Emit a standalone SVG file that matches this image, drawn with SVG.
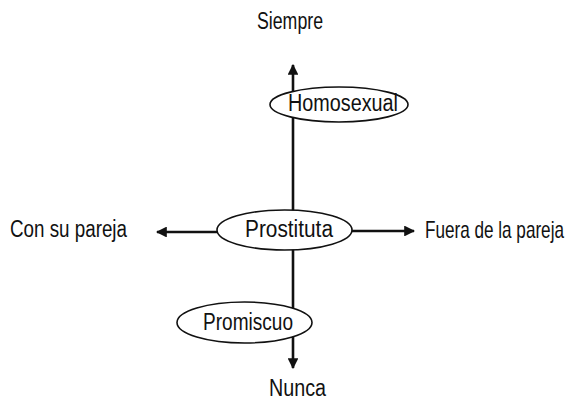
<svg xmlns="http://www.w3.org/2000/svg" width="573" height="400" viewBox="0 0 573 400">
<style>
text{font-family:"Liberation Sans",Arial,sans-serif;font-size:23px;fill:#111}
.n{fill:#fff;stroke:#111;stroke-width:1.6}
.c{stroke:#111;stroke-width:2.6;fill:none}
</style>
<defs>
<marker id="ah" viewBox="0 0 10 10" refX="9" refY="5" markerWidth="4.4" markerHeight="4.2" orient="auto" markerUnits="strokeWidth">
<path d="M0,0L10,5L0,10Z" fill="#111"/>
</marker>
</defs>
<rect width="573" height="400" fill="#fff"/>
<g id="connectors">
<line class="c" x1="293" y1="230" x2="293" y2="65" marker-end="url(#ah)"/>
<line class="c" x1="293" y1="230" x2="293" y2="368" marker-end="url(#ah)"/>
<line class="c" x1="218" y1="232" x2="157" y2="232" marker-end="url(#ah)"/>
<line class="c" x1="350" y1="231" x2="414" y2="231" marker-end="url(#ah)"/>
</g>
<g id="siempre"><text x="257" y="29" textLength="66" lengthAdjust="spacingAndGlyphs">Siempre</text></g>
<g id="homosexual"><ellipse class="n" cx="339" cy="104.5" rx="69" ry="17.5"/><text x="288" y="111" font-size="21" textLength="110" lengthAdjust="spacingAndGlyphs">Homosexual</text></g>
<g id="con"><text x="10" y="237" textLength="117" lengthAdjust="spacingAndGlyphs">Con su pareja</text></g>
<g id="prostituta"><ellipse class="n" cx="284.5" cy="230" rx="67.5" ry="20"/><text x="245" y="237" textLength="88" lengthAdjust="spacingAndGlyphs">Prostituta</text></g>
<g id="fuera"><text transform="translate(425,238) scale(0.745,1)">Fuera de la pareja</text></g>
<g id="promiscuo"><ellipse class="n" cx="244.5" cy="322.5" rx="67.5" ry="20.5"/><text x="203" y="330" textLength="90" lengthAdjust="spacingAndGlyphs">Promiscuo</text></g>
<g id="nunca"><text x="269" y="396" textLength="57" lengthAdjust="spacingAndGlyphs">Nunca</text></g>
</svg>
